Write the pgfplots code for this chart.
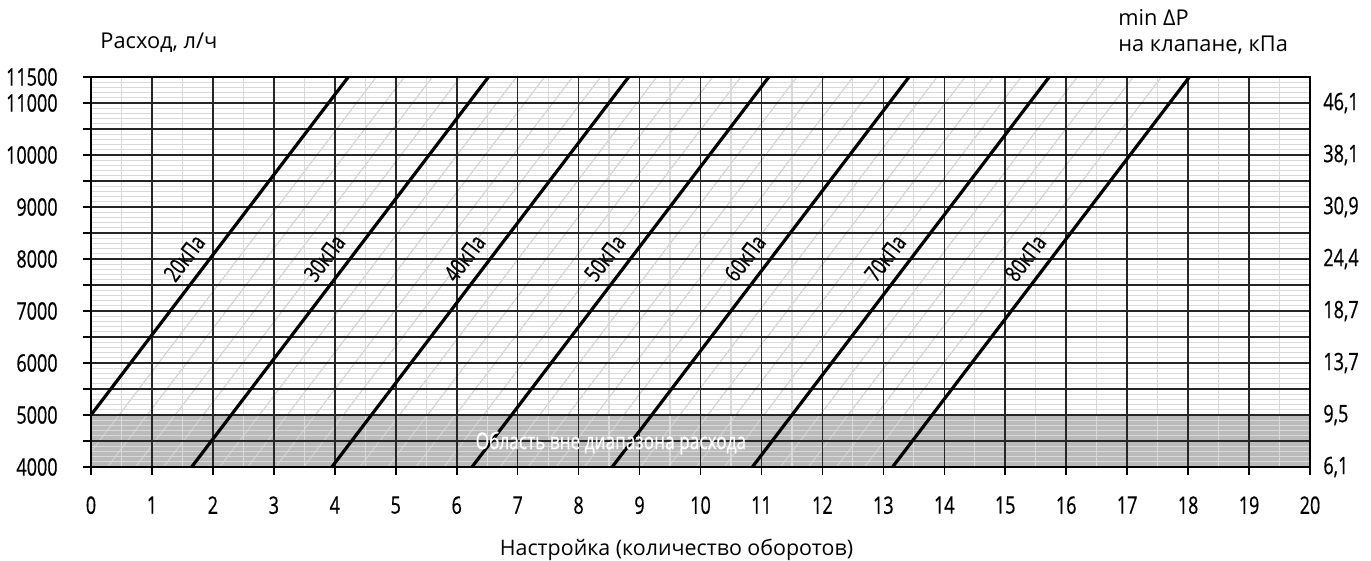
\documentclass[border=0pt]{standalone}
\usepackage{fontspec}
\setmainfont{Open Sans}
\newfontfamily\cond[FakeStretch=0.75, FakeBold=0.6]{Open Sans}
\usepackage{pgfplots}
\pgfplotsset{compat=1.18}
\newcommand\tickfont{\cond\fontsize{12}{14}\selectfont}
\newcommand\headfont{\fontsize{10.9}{13}\selectfont}
\pgfplotsset{common/.style={
  at={(0,0)}, anchor=south west,
  scale only axis, width=609.5pt, height=195pt,
  xmin=0, xmax=20, ymin=4000, ymax=11500,
  xtick={0,1,...,20},
  ytick={4000,4500,...,11500},
  scaled ticks=false,
}}
\begin{document}
\begin{tikzpicture}
% ---------- background axis: band, minor grid, diagonals ----------
\begin{axis}[common,
  axis on top,
  grid=minor,
  minor x tick num=1, minor y tick num=4,
  minor grid style={black!15, line width=0.6pt},
  major tick length=0pt, minor tick length=0pt,
  xticklabels={}, yticklabels={},
  axis line style={draw=none},
]
\addplot[draw=none, fill=black!27] coordinates {(0,4000) (20,4000) (20,5000) (0,5000)} -- cycle;
\addplot[black!18, line width=0.55pt, unbounded coords=jump] table[row sep=\\] {
x y\\
-0.189 4000\\ 4.681 11500\\ nan nan\\
0.271 4000\\ 5.141 11500\\ nan nan\\
0.731 4000\\ 5.601 11500\\ nan nan\\
1.191 4000\\ 6.061 11500\\ nan nan\\
2.111 4000\\ 6.981 11500\\ nan nan\\
2.571 4000\\ 7.441 11500\\ nan nan\\
3.031 4000\\ 7.901 11500\\ nan nan\\
3.491 4000\\ 8.361 11500\\ nan nan\\
4.411 4000\\ 9.281 11500\\ nan nan\\
4.871 4000\\ 9.741 11500\\ nan nan\\
5.331 4000\\ 10.201 11500\\ nan nan\\
5.791 4000\\ 10.661 11500\\ nan nan\\
6.711 4000\\ 11.581 11500\\ nan nan\\
7.171 4000\\ 12.041 11500\\ nan nan\\
7.631 4000\\ 12.501 11500\\ nan nan\\
8.091 4000\\ 12.961 11500\\ nan nan\\
9.011 4000\\ 13.881 11500\\ nan nan\\
9.471 4000\\ 14.341 11500\\ nan nan\\
9.931 4000\\ 14.801 11500\\ nan nan\\
10.391 4000\\ 15.261 11500\\ nan nan\\
11.311 4000\\ 16.181 11500\\ nan nan\\
11.771 4000\\ 16.641 11500\\ nan nan\\
12.231 4000\\ 17.101 11500\\ nan nan\\
12.691 4000\\ 17.561 11500\\
};
\end{axis}
% ---------- main axis ----------
\begin{axis}[common,
  clip mode=individual,
  yticklabels={},
  grid=major,
  major grid style={black!85, line width=0.8pt},
  tick align=outside, tick pos=left,
  major tick length=4pt,
  tick style={black, line width=0.8pt},
  axis line style={black, line width=0.8pt},
  /pgf/number format/assume math mode=true,
  ticklabel style={font=\tickfont, inner sep=0pt},
  xticklabel shift=10.5pt,
]
\addplot[black, line width=1.6pt] coordinates {(0,5000) (4.221,11500)};
\addplot[black, line width=1.6pt] coordinates {(1.651,4000) (6.521,11500)};
\addplot[black, line width=1.6pt] coordinates {(3.951,4000) (8.821,11500)};
\addplot[black, line width=1.6pt] coordinates {(6.251,4000) (11.121,11500)};
\addplot[black, line width=1.6pt] coordinates {(8.551,4000) (13.421,11500)};
\addplot[black, line width=1.6pt] coordinates {(10.851,4000) (15.721,11500)};
\addplot[black, line width=1.6pt] coordinates {(13.151,4000) (18.021,11500)};
% line labels
\node[rotate=52.7, font=\cond\fontsize{11.5}{13}\selectfont, inner sep=0pt] at (axis cs:1.53,8020) {20кПа};
\node[rotate=52.7, font=\cond\fontsize{11.5}{13}\selectfont, inner sep=0pt] at (axis cs:3.83,8020) {30кПа};
\node[rotate=52.7, font=\cond\fontsize{11.5}{13}\selectfont, inner sep=0pt] at (axis cs:6.13,8020) {40кПа};
\node[rotate=52.7, font=\cond\fontsize{11.5}{13}\selectfont, inner sep=0pt] at (axis cs:8.43,8020) {50кПа};
\node[rotate=52.7, font=\cond\fontsize{11.5}{13}\selectfont, inner sep=0pt] at (axis cs:10.73,8020) {60кПа};
\node[rotate=52.7, font=\cond\fontsize{11.5}{13}\selectfont, inner sep=0pt] at (axis cs:13.03,8020) {70кПа};
\node[rotate=52.7, font=\cond\fontsize{11.5}{13}\selectfont, inner sep=0pt] at (axis cs:15.33,8020) {80кПа};
% band text
\node[white, font=\cond\fontsize{11.5}{13}\selectfont, inner sep=0pt] at (axis cs:8.53,4460) {Область вне диапазона расхода};
% left-hand scale (flow, l/h)
\node[anchor=east, font=\tickfont, inner sep=0pt, xshift=-16.5pt] at (axis cs:0,11500) {11500};
\node[anchor=east, font=\tickfont, inner sep=0pt, xshift=-16.5pt] at (axis cs:0,11000) {11000};
\node[anchor=east, font=\tickfont, inner sep=0pt, xshift=-16.5pt] at (axis cs:0,10000) {10000};
\node[anchor=east, font=\tickfont, inner sep=0pt, xshift=-16.5pt] at (axis cs:0,9000) {9000};
\node[anchor=east, font=\tickfont, inner sep=0pt, xshift=-16.5pt] at (axis cs:0,8000) {8000};
\node[anchor=east, font=\tickfont, inner sep=0pt, xshift=-16.5pt] at (axis cs:0,7000) {7000};
\node[anchor=east, font=\tickfont, inner sep=0pt, xshift=-16.5pt] at (axis cs:0,6000) {6000};
\node[anchor=east, font=\tickfont, inner sep=0pt, xshift=-16.5pt] at (axis cs:0,5000) {5000};
\node[anchor=east, font=\tickfont, inner sep=0pt, xshift=-16.5pt] at (axis cs:0,4000) {4000};
% right-hand scale
\node[anchor=west, font=\tickfont, inner sep=0pt, xshift=6.5pt] at (axis cs:20,11000) {46,1};
\node[anchor=west, font=\tickfont, inner sep=0pt, xshift=6.5pt] at (axis cs:20,10000) {38,1};
\node[anchor=west, font=\tickfont, inner sep=0pt, xshift=6.5pt] at (axis cs:20,9000) {30,9};
\node[anchor=west, font=\tickfont, inner sep=0pt, xshift=6.5pt] at (axis cs:20,8000) {24,4};
\node[anchor=west, font=\tickfont, inner sep=0pt, xshift=6.5pt] at (axis cs:20,7000) {18,7};
\node[anchor=west, font=\tickfont, inner sep=0pt, xshift=6.5pt] at (axis cs:20,6000) {13,7};
\node[anchor=west, font=\tickfont, inner sep=0pt, xshift=6.5pt] at (axis cs:20,5000) {9,5};
\node[anchor=west, font=\tickfont, inner sep=0pt, xshift=6.5pt] at (axis cs:20,4000) {6,1};
% titles
\node[anchor=west, font=\headfont, inner sep=0pt, xshift=4.5pt, yshift=17pt] at (rel axis cs:0,1) {Расход, л/ч};
\node[anchor=west, font=\headfont, inner sep=0pt, xshift=-96pt, yshift=30pt] at (rel axis cs:1,1) {min ΔP};
\node[anchor=west, font=\headfont, inner sep=0pt, xshift=-96pt, yshift=16pt] at (rel axis cs:1,1) {на клапане, кПа};
\node[font=\fontsize{10.7}{13}\selectfont, inner sep=0pt, xshift=-12pt, yshift=-41.5pt] at (rel axis cs:0.5,0) {Настройка (количество оборотов)};
\end{axis}
\path (-45.5pt,-44.5pt) rectangle (640pt,233.5pt);
\end{tikzpicture}
\end{document}
